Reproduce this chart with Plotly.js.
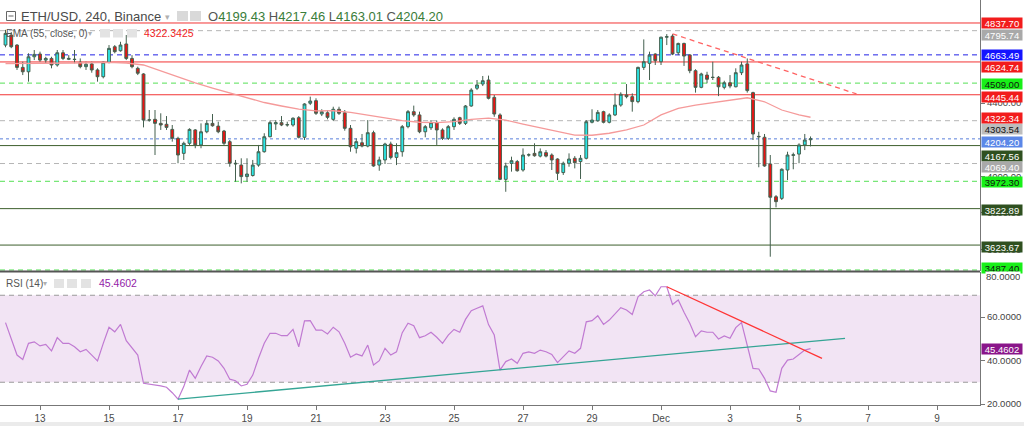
<!DOCTYPE html>
<html><head><meta charset="utf-8">
<script src="https://cdn.plot.ly/plotly-3.0.1.min.js"></script>
<style>html,body{margin:0;padding:0;background:#fff;overflow:hidden}#chart{width:1024px;height:426px}</style>
</head><body><div id="chart"></div>
<script>
// ---------------- DATA ----------------
const days = ['2021-11-12','2021-11-13','2021-11-14','2021-11-15','2021-11-16','2021-11-17','2021-11-18','2021-11-19','2021-11-20','2021-11-21','2021-11-22','2021-11-23','2021-11-24','2021-11-25','2021-11-26','2021-11-27','2021-11-28','2021-11-29','2021-11-30','2021-12-01','2021-12-02','2021-12-03','2021-12-04','2021-12-05'];
const hours = ['00:00','04:00','08:00','12:00','16:00','20:00'];

const open = [4717,4772,4717,4595,4571,4653,4668,4635,4644,4608,4675,4639,4640,4623,4599,4614,4581,4544,4623,4708,
4686,4723,4644,4590,4559,4307,4311,4289,4284,4256,4207,4125,4180,4253,4171,4243,4289,4274,4247,4189,
4071,4061,3998,4004,4061,4134,4216,4286,4293,4280,4280,4320,4213,4399,4413,4340,4347,4311,4366,4347,
4262,4153,4183,4165,4238,4061,4089,4176,4103,4134,4271,4353,4335,4243,4265,4293,4253,4207,4271,4320,
4289,4384,4481,4504,4526,4431,4335,3983,4070,4080,4034,4116,4125,4110,4129,4116,4094,4020,4071,4098,
4080,4098,4295,4303,4353,4295,4335,4389,4444,4435,4408,4595,4617,4668,4626,4760,4766,4675,4726,4663,
4577,4486,4553,4541,4541,4486,4511,4489,4566,4614,4457,4218,4213,4067,3888,3879,4034,4114,4121,4171,4199.43];
const high = [4800,4788,4722,4626,4672,4690,4681,4653,4653,4690,4690,4662,4690,4644,4626,4626,4590,4626,4717,4717,
4735,4772,4662,4599,4563,4362,4362,4344,4329,4280,4216,4189,4262,4258,4289,4307,4340,4298,4253,4198,
4089,4098,4098,4089,4171,4235,4304,4307,4329,4298,4322,4329,4399,4435,4426,4366,4362,4380,4380,4362,
4280,4207,4231,4307,4249,4107,4183,4189,4180,4280,4362,4386,4353,4280,4307,4304,4262,4280,4322,4325,
4389,4481,4526,4548,4550,4444,4344,4074,4107,4089,4152,4125,4180,4152,4143,4125,4098,4080,4125,4110,
4116,4307,4366,4362,4358,4344,4453,4459,4504,4453,4599,4748,4681,4672,4763,4777,4777,4730,4730,4668,
4585,4566,4571,4626,4548,4522,4553,4590,4626,4644,4462,4243,4231,4116,3897,4043,4134,4129,4180,4231,4217.46];
const low = [4705,4700,4581,4553,4517,4635,4626,4617,4590,4599,4635,4635,4617,4590,4581,4566,4517,4535,4617,4672,
4681,4635,4590,4553,4267,4298,4116,4253,4253,4189,4071,4089,4171,4153,4153,4235,4271,4235,4171,4052,
3970,3961,3970,3998,4052,4129,4213,4253,4274,4271,4271,4207,4198,4389,4335,4329,4311,4303,4335,4249,
4134,4125,4158,4158,4052,4030,4067,4092,4061,4107,4262,4325,4235,4213,4253,4171,4198,4198,4253,4280,
4280,4380,4471,4493,4420,4325,3979,3915,4025,4025,4025,4107,4107,4103,4103,4034,3979,4007,4052,4043,
3985,4092,4289,4298,4289,4289,4329,4380,4426,4353,4399,4581,4526,4608,4608,4717,4662,4662,4603,4563,
4457,4481,4508,4526,4438,4475,4481,4486,4553,4457,4198,4049,4052,3560,3830,3870,3979,4038,4071,4143,4163.01];
const close = [4781,4708,4595,4571,4653,4666,4635,4644,4608,4675,4644,4644,4638,4599,4612,4581,4544,4623,4699,4681,
4717,4644,4599,4563,4307,4308,4289,4280,4267,4207,4116,4180,4256,4171,4243,4289,4276,4243,4180,4071,
4068,3998,4012,4061,4134,4216,4293,4293,4280,4282,4317,4213,4395,4411,4344,4353,4322,4366,4344,4262,
4161,4189,4165,4238,4056,4089,4176,4103,4129,4271,4353,4335,4243,4271,4293,4253,4207,4271,4311,4289,
4384,4471,4499,4522,4426,4340,3983,4056,4085,4030,4116,4117,4112,4134,4110,4089,4016,4071,4094,4074,
4098,4298,4307,4349,4295,4335,4389,4448,4435,4408,4595,4626,4662,4632,4760,4763,4668,4726,4657,4577,
4486,4559,4530,4540,4489,4511,4493,4566,4608,4468,4231,4216,4056,3885,3861,4038,4116,4117,4171,4198,4204.20];

const rsi = [57.4,50.2,42.5,40.5,47.9,48.6,46.7,47.4,44.4,50.5,
47.9,47.9,46.3,44.0,45.1,42.5,39.8,47.9,55.3,53.2,
56.6,49.1,45.6,42.5,29.5,29.2,28.7,28.3,27.7,25.2,
22.2,28.0,35.6,31.8,37.2,42.1,41.5,39.8,36.4,31.4,
30.7,28.3,29.1,33.3,41.0,47.9,52.5,52.5,51.4,51.4,
54.3,46.3,58.2,58.3,54.0,54.0,52.2,55.3,53.2,47.9,
41.5,43.0,42.1,47.1,37.9,39.9,45.6,42.5,44.0,52.8,
57.1,56.0,50.5,51.4,53.0,50.7,47.9,51.7,54.3,53.0,
58.9,62.9,64.0,65.1,56.5,51.7,35.6,39.5,40.7,38.7,
43.3,44.0,43.3,44.8,44.0,42.8,39.0,41.8,44.4,43.3,
45.6,57.8,58.3,60.6,56.6,58.6,61.7,64.3,63.2,61.2,
69.3,71.6,72.4,69.7,73.9,73.9,65.8,67.8,62.2,57.1,
50.9,53.6,53.0,53.0,49.9,51.3,50.2,55.1,57.4,47.1,
36.4,36.1,31.8,26.0,25.4,36.4,40.2,40.7,42.8,44.8,45.4602];

const emaTime = ['2021-11-12 00:00','2021-11-13 00:00','2021-11-14 00:00','2021-11-15 00:00','2021-11-15 12:00','2021-11-16 00:00','2021-11-16 12:00','2021-11-17 00:00','2021-11-17 12:00','2021-11-18 00:00','2021-11-18 12:00','2021-11-19 00:00','2021-11-19 12:00','2021-11-20 00:00','2021-11-20 12:00','2021-11-21 00:00','2021-11-21 12:00','2021-11-22 00:00','2021-11-22 12:00','2021-11-23 00:00','2021-11-23 12:00','2021-11-24 00:00','2021-11-24 12:00','2021-11-25 00:00','2021-11-25 12:00','2021-11-26 00:00','2021-11-26 12:00','2021-11-27 00:00','2021-11-27 12:00','2021-11-28 00:00','2021-11-28 12:00','2021-11-29 00:00','2021-11-29 12:00','2021-11-30 00:00','2021-11-30 12:00','2021-12-01 00:00','2021-12-01 12:00','2021-12-02 00:00','2021-12-02 12:00','2021-12-03 00:00','2021-12-03 12:00','2021-12-04 00:00','2021-12-04 12:00','2021-12-05 00:00','2021-12-05 08:00'];
const emaVal = [4616,4616,4619,4622,4619,4608,4575,4540,4510,4482,4455,4428,4403,4384,4367,4357,4358,4349,4335,4322,4304,4295,4293,4298,4311,4318,4307,4285,4265,4245,4225,4224,4235,4253,4280,4335,4371,4389,4402,4413,4429,4407,4362,4335,4322.34];

const priceTrendTime = ['2021-12-01 08:00','2021-12-06 16:00'];
const priceTrendVal = [4778, 4450];
const rsiUpTime = ['2021-11-17 00:00','2021-12-06 08:00'];
const rsiUpVal = [22.2, 50.2];
const rsiDownTime = ['2021-12-01 04:00','2021-12-05 16:00'];
const rsiDownVal = [73.9, 41.0];

const levelPrices = [4837.70,4795.74,4663.49,4624.74,4509.00,4445.44,4303.54,4204.20,4167.56,4069.40,3972.30,3822.89,3623.67,3487.40];
const levelKinds  = ['res','grey','blue','res','green','res','grey2','last','sup','grey','green','sup','sup','green'];
const emaLast = 4322.34;
const rsiLast = 45.4602;

const priceTicks = [3600,3800,4000,4400];
const rsiTicks = [20,40,60];
const xTickVals = ['2021-11-13','2021-11-15','2021-11-17','2021-11-19','2021-11-21','2021-11-23','2021-11-25','2021-11-27','2021-11-29','2021-12-01','2021-12-03','2021-12-05','2021-12-07','2021-12-09'];
const xTickText = ['13','15','17','19','21','23','25','27','29','Dec','3','5','7','9'];

// ---------------- LAYOUT HELPERS ----------------
const time = [];
days.forEach(d => hours.forEach(h => time.push(d + ' ' + h)));
time.length = open.length;

const W = 980, H = 405;
const px = v => v / W;
const py = v => 1 - v / H;
const SANS = "'Liberation Sans',Arial,sans-serif";

const kindStyle = {
  res:   {line:'#f23434', dash:'solid',   bg:'#f21c1c', fg:'#ffffff'},
  grey:  {line:'#b5b5b5', dash:'5px,4px', bg:'#a9a9a9', fg:'#ffffff'},
  grey2: {line:'#b5b5b5', dash:'5px,4px', bg:'#bdbdbd', fg:'#111111'},
  blue:  {line:'#2222e6', dash:'5px,4px', bg:'#1414ff', fg:'#ffffff'},
  green: {line:'#55e055', dash:'5px,4px', bg:'#18f018', fg:'#111111'},
  last:  {line:'#5a7fdc', dash:'dot',     bg:'#5b87e8', fg:'#ffffff'},
  sup:   {line:'#3d5f2d', dash:'solid',   bg:'#2f5020', fg:'#ffffff'}
};
const labelShift = [0,-4,0,-5,-1,-2.5,-8,-3.5,-10,-3,-1,-1.5,-1.5,2];

const shapes = [
  {type:'rect', xref:'paper', yref:'y2', x0:0, x1:1, y0:30, y1:70, fillcolor:'#f2e4f4', line:{width:0}, layer:'below'},
  {type:'line', xref:'paper', yref:'y2', x0:0, x1:1, y0:70, y1:70, line:{color:'#9a9a9a', width:1, dash:'5px,4px'}, layer:'below'},
  {type:'line', xref:'paper', yref:'y2', x0:0, x1:1, y0:30, y1:30, line:{color:'#9a9a9a', width:1, dash:'5px,4px'}, layer:'below'}
];
levelPrices.forEach((p, i) => {
  const s = kindStyle[levelKinds[i]];
  shapes.push({type:'line', xref:'paper', yref:'y', x0:0, x1:1, y0:p, y1:p, line:{color:s.line, width:1, dash:s.dash}, layer:'below'});
});
shapes.push({type:'line', xref:'paper', yref:'paper', x0:0, x1:1, y0:py(271.5), y1:py(271.5), line:{color:'#555555', width:2}});
shapes.push({type:'rect', xref:'paper', yref:'paper', x0:0, x1:1024/W, y0:py(426), y1:py(422), fillcolor:'#ebebeb', line:{width:0}});
shapes.push({type:'rect', xref:'paper', yref:'paper', x0:px(6.5), x1:px(15.5), y0:py(20.5), y1:py(11.5), line:{color:'#666', width:1}, fillcolor:'rgba(0,0,0,0)'});
shapes.push({type:'line', xref:'paper', yref:'paper', x0:px(8.5), x1:px(13.5), y0:py(16), y1:py(16), line:{color:'#666', width:1}});
[[177,188],[190,201]].forEach(a => shapes.push({type:'rect', xref:'paper', yref:'paper', x0:px(a[0]), x1:px(a[1]), y0:py(21), y1:py(11), fillcolor:'#d9d9d9', line:{width:0}}));
[[100,110],[113,123],[127,137]].forEach(a => shapes.push({type:'rect', xref:'paper', yref:'paper', x0:px(a[0]), x1:px(a[1]), y0:py(37.5), y1:py(29), fillcolor:'#e3e3e3', line:{width:0}}));
[[54,64],[67,77],[81,91]].forEach(a => shapes.push({type:'rect', xref:'paper', yref:'paper', x0:px(a[0]), x1:px(a[1]), y0:py(288), y1:py(279), fillcolor:'#e3e3e3', line:{width:0}}));

const annotations = [];
const txt = (text, x, y, size, color, anchor) => annotations.push({xref:'paper', yref:'paper', x:px(x), y:py(y), xanchor:anchor || 'left', yanchor:'middle', text, showarrow:false, font:{size, color, family:SANS}});
txt('ETH/USD, 240, Binance', 19, 16.5, 13, '#4a4a4a');
txt('▾', 167, 17, 9, '#b0b0b0', 'center');
const G = '#3a7d3a', K = '#555555';
txt(`<span style="color:${K}">O</span>4199.43 <span style="color:${K}">H</span>4217.46 <span style="color:${K}">L</span>4163.01 <span style="color:${K}">C</span>4204.20`, 206, 16.5, 13, G);
txt('EMA (55, close, 0)', 4, 33.3, 10, '#555555');
txt('▾', 90, 33.5, 8, '#b0b0b0', 'center');
txt('4322.3425', 142, 33.3, 10.5, '#f02424');
txt('RSI (14)', 4, 283.3, 10, '#555555');
txt('▾', 45, 283.5, 8, '#b0b0b0', 'center');
txt('45.4602', 97, 283.3, 10.5, '#9322a8');

const lab = (val, yref, shift, bg, fg) => annotations.push({xref:'paper', x:1, xanchor:'left', xshift:1, yref, y:val, yanchor:'middle', yshift:shift, text:(yref==='y2'? val.toFixed(4) : val.toFixed(2)), showarrow:false, bgcolor:bg, font:{color:fg, size:9.5, family:SANS}, width:40, height:10, borderpad:0, align:'center'});
levelPrices.forEach((p, i) => {
  const s = kindStyle[levelKinds[i]];
  lab(p, 'y', labelShift[i], s.bg, s.fg);
});
lab(emaLast, 'y', -1, '#f21c1c', '#ffffff');
lab(rsiLast, 'y2', 0, '#8a168a', '#ffffff');
annotations.push({xref:'paper', x:1, xanchor:'left', xshift:5, yref:'y2', y:80, yanchor:'middle', yshift:-2.5, text:'80.0000', showarrow:false, bgcolor:'#ffffff', font:{color:'#444', size:9.5, family:SANS}, borderpad:0, height:8});

// ---------------- TRACES ----------------
const traces = [
  {type:'scatter', mode:'lines', x:emaTime, y:emaVal, xaxis:'x', yaxis:'y', line:{color:'#f59a9a', width:1.3}, hoverinfo:'skip'},
  {type:'candlestick', x:time, open, high, low, close, xaxis:'x', yaxis:'y', whiskerwidth:0,
   increasing:{fillcolor:'#2ae8e8', line:{color:'#44604f', width:1}},
   decreasing:{fillcolor:'#ee1212', line:{color:'#44604f', width:1}}, hoverinfo:'skip'},
  {type:'scatter', mode:'lines', x:priceTrendTime, y:priceTrendVal, xaxis:'x', yaxis:'y', line:{color:'#ff6464', width:1.3, dash:'5px,4px'}, hoverinfo:'skip'},
  {type:'scatter', mode:'lines', x:time, y:rsi, xaxis:'x', yaxis:'y2', line:{color:'#c07ad2', width:1.2}, hoverinfo:'skip'},
  {type:'scatter', mode:'lines', x:rsiUpTime, y:rsiUpVal, xaxis:'x', yaxis:'y2', line:{color:'#35a595', width:1.3}, hoverinfo:'skip'},
  {type:'scatter', mode:'lines', x:rsiDownTime, y:rsiDownVal, xaxis:'x', yaxis:'y2', line:{color:'#ff3434', width:1.3}, hoverinfo:'skip'}
];

const layout = {
  width:1024, height:426, margin:{l:0, r:44, t:0, b:21}, paper_bgcolor:'#ffffff', plot_bgcolor:'#ffffff', showlegend:false, boxgap:0.3,
  xaxis:{type:'date', range:['2021-11-11 20:10','2021-12-10 05:54'], anchor:'y2', tickmode:'array', tickvals:xTickVals, ticktext:xTickText,
    ticks:'outside', ticklen:4, tickcolor:'#777', showgrid:false, zeroline:false, showline:true, linecolor:'#777', linewidth:1,
    tickfont:{size:10, color:'#4a4a4a', family:SANS}, rangeslider:{visible:false}, fixedrange:true},
  yaxis:{domain:[1-271/H, 1], range:[3481.9, 4963.4], side:'right', anchor:'x', tickmode:'array', tickvals:priceTicks, tickformat:'.2f',
    ticks:'outside', ticklen:4, tickcolor:'#777', showgrid:false, zeroline:false, showline:true, linecolor:'#777', tickfont:{size:9.5, color:'#444', family:SANS}, fixedrange:true},
  yaxis2:{domain:[0, 133/H], range:[19.54, 80.69], side:'right', anchor:'x', tickmode:'array', tickvals:rsiTicks, tickformat:'.4f',
    ticks:'outside', ticklen:4, tickcolor:'#777', showgrid:false, zeroline:false, showline:true, linecolor:'#777', tickfont:{size:9.5, color:'#444', family:SANS}, fixedrange:true},
  shapes, annotations
};

Plotly.newPlot('chart', traces, layout, {displayModeBar:false, staticPlot:true});
</script></body></html>
